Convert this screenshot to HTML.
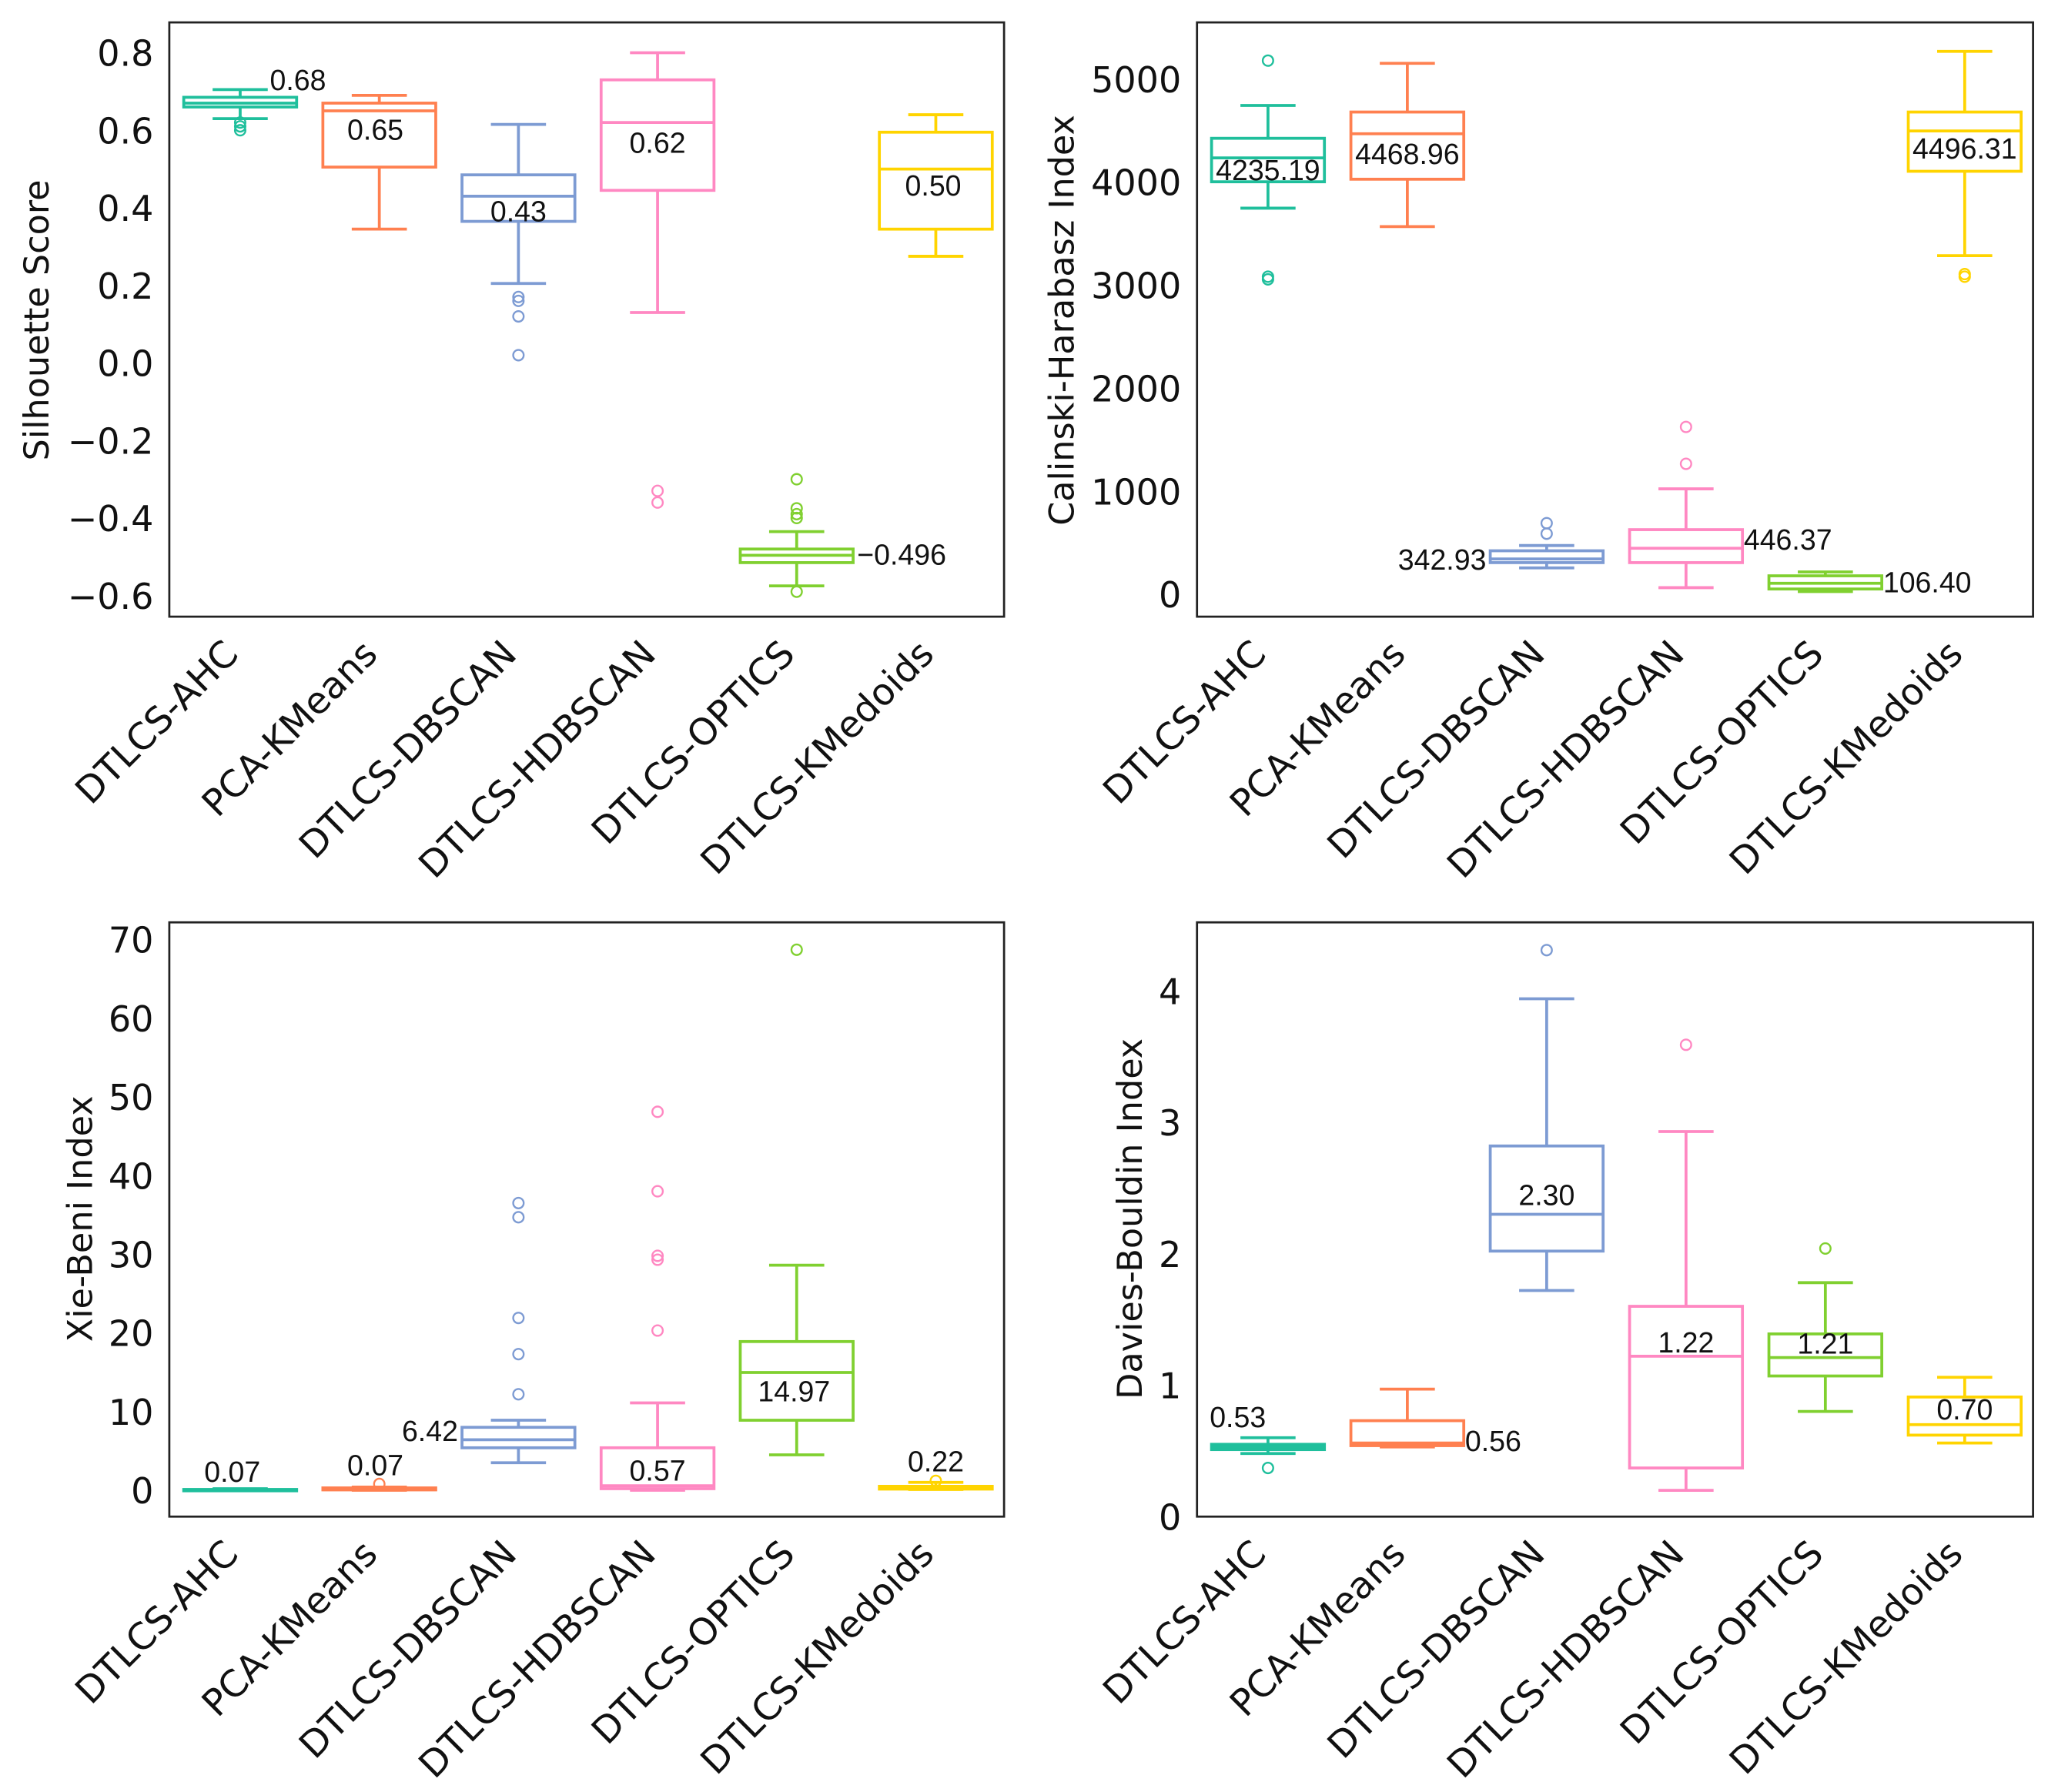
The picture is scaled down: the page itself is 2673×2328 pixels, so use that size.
<!DOCTYPE html>
<html><head><meta charset="utf-8">
<style>
html,body{margin:0;padding:0;background:#fff;}
svg{display:block;}
text{font-family:"DejaVu Sans","Liberation Sans",sans-serif;}
text.val{font-family:"Liberation Sans","DejaVu Sans",sans-serif;}
</style></head>
<body>
<svg id="chart" width="2673" height="2328" viewBox="0 0 1568 1360" preserveAspectRatio="none" xmlns="http://www.w3.org/2000/svg"></svg>
<script>
const categories = ["DTLCS-AHC","PCA-KMeans","DTLCS-DBSCAN","DTLCS-HDBSCAN","DTLCS-OPTICS","DTLCS-KMedoids"];
const colors = ["#1fbf9c","#ff8050","#7d9bd3","#ff88c2","#80d030","#ffd400"];

// Silhouette
const silLo  = [0.63,0.345,0.205,0.13,-0.575,0.275];
const silQ1  = [0.66,0.505,0.365,0.445,-0.515,0.345];
const silMed = [0.67,0.65,0.43,0.62,-0.496,0.50];
const silQ3  = [0.685,0.67,0.485,0.73,-0.48,0.595];
const silHi  = [0.705,0.69,0.615,0.80,-0.435,0.64];
const silOut = [[0.60,0.61,0.62],[],[0.17,0.16,0.12,0.02],[-0.33,-0.36],[-0.30,-0.375,-0.39,-0.40,-0.59],[]];
const silLabels = ["0.68","0.65","0.43","0.62","\u22120.496","0.50"];
const silTicks = [0.8,0.6,0.4,0.2,0.0,-0.2,-0.4,-0.6];
const silTickLabels = ["0.8","0.6","0.4","0.2","0.0","\u22120.2","\u22120.4","\u22120.6"];

// Calinski-Harabasz
const chLo  = [3747,3568,256,64,26,3286];
const chQ1  = [4003,4028,307,307,51,4105];
const chMed = [4235.19,4468.96,342.93,446.37,106.40,4496.31];
const chQ3  = [4425,4680,422,627,179,4680];
const chHi  = [4744,5153,473,1023,217,5269];
const chOut = [[5179,3082,3056],[],[690,588],[1266,1624],[],[3107,3082]];
const chLabels = ["4235.19","4468.96","342.93","446.37","106.40","4496.31"];
const chTicks = [5000,4000,3000,2000,1000,0];
const chTickLabels = ["5000","4000","3000","2000","1000","0"];

// Xie-Beni
const xbLo  = [0.0,0.0,3.5,0.0,4.5,0.1];
const xbQ1  = [0.03,0.05,5.4,0.2,8.9,0.15];
const xbMed = [0.07,0.07,6.42,0.57,14.97,0.22];
const xbQ3  = [0.1,0.3,8.0,5.4,18.9,0.5];
const xbHi  = [0.2,0.4,8.9,11.1,28.6,1.0];
const xbOut = [[],[0.8],[12.2,17.3,21.9,34.7,36.5],[20.3,29.3,29.8,38.0,48.1],[68.7],[1.2]];
const xbLabels = ["0.07","0.07","6.42","0.57","14.97","0.22"];
const xbTicks = [70,60,50,40,30,20,10,0];
const xbTickLabels = ["70","60","50","40","30","20","10","0"];

// Davies-Bouldin
const dbLo  = [0.48,0.53,1.72,0.20,0.80,0.56];
const dbQ1  = [0.51,0.54,2.02,0.37,1.07,0.62];
const dbMed = [0.53,0.56,2.30,1.22,1.21,0.70];
const dbQ3  = [0.55,0.73,2.82,1.60,1.39,0.91];
const dbHi  = [0.60,0.97,3.94,2.93,1.78,1.06];
const dbOut = [[0.37],[],[4.31],[3.59],[2.04],[]];
const dbLabels = ["0.53","0.56","2.30","1.22","1.21","0.70"];
const dbTicks = [4,3,2,1,0];
const dbTickLabels = ["4","3","2","1","0"];

const NS = "http://www.w3.org/2000/svg";
const svg = document.getElementById("chart");
function mk(tag, attrs, parent){
  const e = document.createElementNS(NS, tag);
  for (const k in attrs) e.setAttribute(k, attrs[k]);
  (parent||svg).appendChild(e);
  return e;
}

const panels = [
  {name:"silhouette", title:"Silhouette Score", x0:129,x1:765,y0:17,y1:468, vTop:0.8, yTop:40, vBot:-0.6, yBot:452, titleX:27, titleY:243,
   lo:silLo,q1:silQ1,med:silMed,q3:silQ3,hi:silHi,out:silOut,labels:silLabels,ticks:silTicks,tickLabels:silTickLabels,
   lblPos:[["m",44,-18],["c",-3,14],["c",0,11],["c",0,15],["r",46,-1],["c",-2,12]]},
  {name:"calinski", title:"Calinski-Harabasz Index", x0:912,x1:1549,y0:17,y1:468, vTop:5000, yTop:60, vBot:0, yBot:451, titleX:808, titleY:243,
   lo:chLo,q1:chQ1,med:chMed,q3:chQ3,hi:chHi,out:chOut,labels:chLabels,ticks:chTicks,tickLabels:chTickLabels,
   lblPos:[["c",0,9],["c",0,15],["l",-46,0],["r",44,-7],["r",44,-1],["c",0,13]]},
  {name:"xie-beni", title:"Xie-Beni Index", x0:129,x1:765,y0:700,y1:1151, vTop:70, yTop:713, vBot:0, yBot:1131, titleX:60, titleY:925,
   lo:xbLo,q1:xbQ1,med:xbMed,q3:xbQ3,hi:xbHi,out:xbOut,labels:xbLabels,ticks:xbTicks,tickLabels:xbTickLabels,
   lblPos:[["c",-6,-14],["c",-3,-19],["l",-46,-7],["c",0,-12],["c",-2,14],["c",0,-21]]},
  {name:"davies-bouldin", title:"Davies-Bouldin Index", x0:912,x1:1549,y0:700,y1:1151, vTop:4, yTop:752, vBot:0, yBot:1151, titleX:860, titleY:925,
   lo:dbLo,q1:dbQ1,med:dbMed,q3:dbQ3,hi:dbHi,out:dbOut,labels:dbLabels,ticks:dbTicks,tickLabels:dbTickLabels,
   lblPos:[["c",-23,-23],["r",44,-2],["c",0,-15],["c",0,-11],["c",0,-11],["c",0,-12]]}
];

panels.forEach(p => {
  const g = mk("g", {});
  
  
  const yS = v => p.yTop + (p.vTop - v) * (p.yBot - p.yTop) / (p.vTop - p.vBot);
  const step = (p.x1 - p.x0) / 6;
  const xS = i => p.x0 + step * (i + 0.5) + 1;
  const frame = mk("rect", {x:p.x0,y:p.y0,width:p.x1-p.x0,height:p.y1-p.y0,fill:"none",stroke:"#222","stroke-width":1.6}, g);
  
  
  p.ticks.forEach((t, i) => {
    const tl = mk("text", {x:p.x0-12, y:yS(t)+10, "text-anchor":"end","font-size":27, fill:"#111"}, g);
    tl.textContent = p.tickLabels[i];
    
    
  });
  const yt = mk("text", {x:p.titleX, y:p.titleY, "text-anchor":"middle","font-size":26, fill:"#111", transform:`rotate(-90 ${p.titleX} ${p.titleY})`, dy:10}, g);
  yt.textContent = p.title;
  
  
  categories.forEach((c, i) => {
    const cx = xS(i) - 12, cy = p.y1 + 18;
    const ct = mk("text", {x:cx, y:cy, "text-anchor":"end","font-size":28, fill:"#111", transform:`rotate(-45 ${cx} ${cy})`, dy:17}, g);
    ct.textContent = c;
    
    
  });
  const hw = 43, cw = 21;
  categories.forEach((c, i) => {
    const col = colors[i], x = xS(i);
    const bg = mk("g", {stroke:col, "stroke-width":2.2, fill:"none"}, g);
    
    
    const yq1 = yS(p.q1[i]), yq3 = yS(p.q3[i]);
    const r = mk("rect", {x:x-hw, y:Math.min(yq1,yq3), width:2*hw, height:Math.max(1,Math.abs(yq1-yq3))}, bg);
    
    
    const m = mk("line", {x1:x-hw, x2:x+hw, y1:yS(p.med[i]), y2:yS(p.med[i])}, bg);
    
    
    const w1 = mk("line", {x1:x, x2:x, y1:yq3, y2:yS(p.hi[i])}, bg);
    
    
    const w2 = mk("line", {x1:x, x2:x, y1:yq1, y2:yS(p.lo[i])}, bg);
    
    
    const c1 = mk("line", {x1:x-cw, x2:x+cw, y1:yS(p.hi[i]), y2:yS(p.hi[i])}, bg);
    
    
    const c2 = mk("line", {x1:x-cw, x2:x+cw, y1:yS(p.lo[i]), y2:yS(p.lo[i])}, bg);
    
    
    p.out[i].forEach(v => {
      const o = mk("circle", {cx:x, cy:yS(v), r:4, "stroke-width":1.4}, bg);
      
      
    });
    const lp = p.lblPos[i];
    let lx = x + lp[1], anchor = "middle";
    if (lp[0] === "l") anchor = "end";
    if (lp[0] === "r") anchor = "start";
    const ly = yS(p.med[i]) + lp[2] + 8;
    const lt = mk("text", {x:lx, y:ly, "text-anchor":anchor, "font-size":22, fill:"#111", "class":"val"}, g);
    lt.textContent = p.labels[i];
    
    
  });
});
</script>
</body></html>
